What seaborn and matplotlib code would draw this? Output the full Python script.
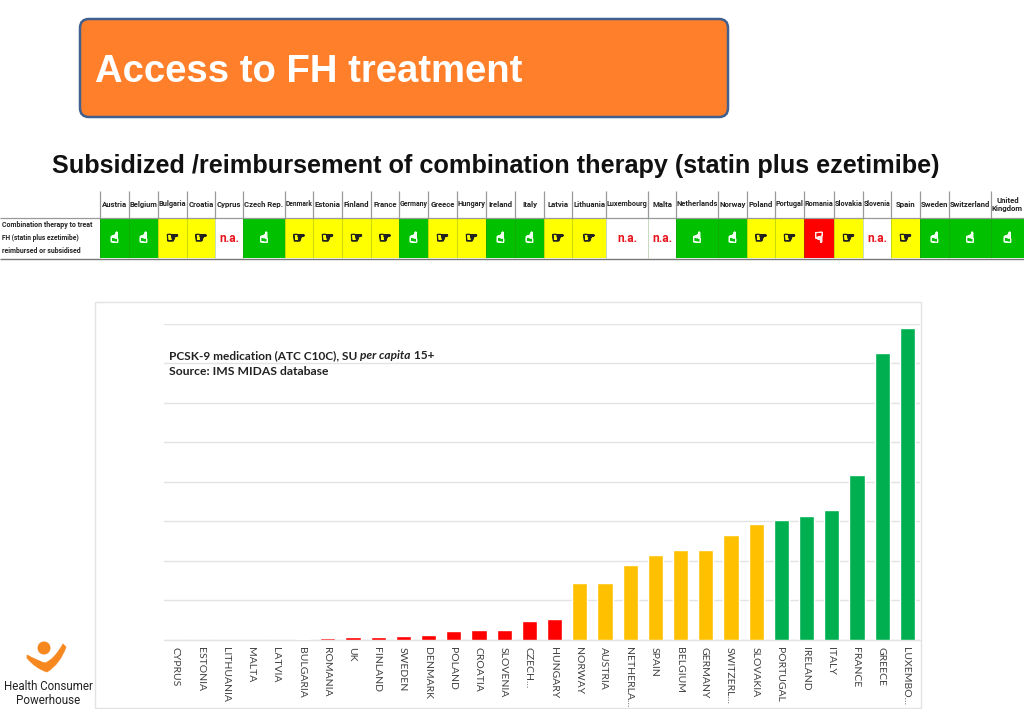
import numpy as np
import matplotlib
matplotlib.use("Agg")
import matplotlib.pyplot as plt
import matplotlib.patheffects as pe
from matplotlib.colors import ListedColormap
from matplotlib.patches import FancyBboxPatch, Rectangle, Circle, PathPatch
from matplotlib.path import Path
from matplotlib.transforms import ScaledTranslation
import seaborn as sns

# ---------- data ----------
title = "Access to FH treatment"
subtitle = "Subsidized /reimbursement of combination therapy (statin plus ezetimibe)"

table_countries = ["Austria", "Belgium", "Bulgaria", "Croatia", "Cyprus", "Czech Rep.", "Denmark", "Estonia",
                   "Finland", "France", "Germany", "Greece", "Hungary", "Ireland", "Italy", "Latvia", "Lithuania",
                   "Luxembourg", "Malta", "Netherlands", "Norway", "Poland", "Portugal", "Romania", "Slovakia",
                   "Slovenia", "Spain", "Sweden", "Switzerland", "United\nKingdom"]
# g = green, y = yellow, r = red, n = not available
table_status = list("ggyyngyyyygyygg" "yynnggyyryny" "ggg")
table_row_label = ["Combination therapy to treat", "FH (statin plus ezetimibe)", "reimbursed or subsidised"]

chart_countries = ["CYPRUS", "ESTONIA", "LITHUANIA", "MALTA", "LATVIA", "BULGARIA", "ROMANIA", "UK", "FINLAND",
                   "SWEDEN", "DENMARK", "POLAND", "CROATIA", "SLOVENIA", "CZECH...", "HUNGARY", "NORWAY", "AUSTRIA",
                   "NETHERLA...", "SPAIN", "BELGIUM", "GERMANY", "SWITZERL...", "SLOVAKIA", "PORTUGAL", "IRELAND",
                   "ITALY", "FRANCE", "GREECE", "LUXEMBO..."]
chart_values = [0, 0, 0, 0, 0, 0.1, 0.3, 0.6, 0.7, 0.9, 1.2, 2.2, 2.5, 2.5, 4.7, 5.2, 14.4, 14.4,
                19.0, 21.4, 22.6, 22.8, 26.6, 29.2, 30.4, 31.2, 32.8, 41.7, 72.6, 78.9]
chart_groups = ["low"] * 16 + ["mid"] * 8 + ["high"] * 6

# ---------- layout ----------
W, H = 1024, 709
table_edges = [100, 129, 158, 187, 215, 243, 285, 313, 342, 371, 399, 428, 457, 486, 515, 544, 572, 606,
               648, 676, 718, 747, 775, 804, 834, 863, 891, 920, 949, 991, 1024]
STATUS_COLORS = {"g": "#00C000", "y": "#FFFF00", "r": "#FF0000", "n": "#FFFFFF"}
GROUP_COLORS = {"low": "#FF0000", "mid": "#FFC000", "high": "#00B050"}
TABLE_FONT = ["Roboto", "DejaVu Sans"]
CHART_FONT = ["Lato", "DejaVu Sans"]
HEAD_FONT = ["Liberation Sans", "DejaVu Sans"]
HANDS = {"y": ("\u261E", "#222222"), "g": ("\u261D", "#F0FFF0"), "r": ("\u261F", "#FFE8E8")}

sns.set_theme(style="white")
fig = plt.figure(figsize=(W / 100, H / 100), dpi=100, facecolor="white")
renderer = fig.canvas.get_renderer()


def fit(t, width, max_size=None):
    """Scale a text so that it spans the given width in pixels."""
    size = t.get_fontsize() * width / t.get_window_extent(renderer).width
    t.set_fontsize(min(size, max_size) if max_size else size)
    return t


# page layer in pixel coordinates
bg = fig.add_axes([0, 0, 1, 1])
bg.set_xlim(0, W)
bg.set_ylim(H, 0)
bg.axis("off")

# title box
bg.add_patch(FancyBboxPatch((80, 19), 648, 98, boxstyle="round,pad=0,rounding_size=9",
                            fc="#FF7F2A", ec="#41608F", lw=1.8))
fit(bg.text(95, 72, title, color="white", fontsize=26, fontweight="bold", va="center", ha="left",
            family=HEAD_FONT), 428)
fit(bg.text(52, 166.5, subtitle, color="#111111", fontsize=17, fontweight="bold", va="center", ha="left",
            family=HEAD_FONT), 889)

# table
codes = np.array([[list(STATUS_COLORS).index(s) for s in table_status]])
bg.pcolormesh(table_edges, [218, 258], codes, cmap=ListedColormap(list(STATUS_COLORS.values())),
              vmin=-0.5, vmax=3.5, edgecolors="none")
bg.hlines(218, 0, W, color="#999999", lw=0.9)
bg.hlines(258.5, 0, W, color="#777777", lw=1.0)
bg.vlines(table_edges[:-1], 191, 218, color="#999999", lw=0.9)
bg.vlines(table_edges[:-1], 218, 258, color="#3d7a20", lw=0.4, alpha=0.5)
for line, y, w in zip(table_row_label, [225, 238, 251], [92, 78, 79]):
    fit(bg.text(2, y, line, fontsize=6, fontweight="bold", color="#222222", va="center", ha="left",
                family=TABLE_FONT), w)
for i, (c, s) in enumerate(zip(table_countries, table_status)):
    xc = (table_edges[i] + table_edges[i + 1]) / 2
    cell = table_edges[i + 1] - table_edges[i]
    fit(bg.text(xc, 204.5, c, fontsize=6, fontweight="bold", color="#222222", va="center", ha="center",
                family=TABLE_FONT, linespacing=1.25), cell - 1, max_size=5.6)
    if s == "n":
        fit(bg.text(xc, 239, "n.a.", fontsize=11, fontweight="bold", color="#E8141C", va="center", ha="center",
                    family=TABLE_FONT), 20)
    else:
        glyph, colour = HANDS[s]
        bg.text(xc, 238, glyph, fontsize=10.5, color=colour, va="center", ha="center", family=["DejaVu Sans"],
                path_effects=[pe.withStroke(linewidth=0.7, foreground=colour)])

# chart panel
bg.add_patch(Rectangle((95, 302), 826, 406, fc="white", ec="#E2E2E2", lw=1))

# logo
bg.add_patch(Circle((44, 648), 6.5, fc="#F7881F", ec="none"))
swoosh = Path([(27, 655), (38, 661), (45, 663), (54, 660), (63, 644), (66, 647), (60, 664), (47, 672),
               (35, 668), (27, 658), (27, 655)],
              [Path.MOVETO, Path.CURVE3, Path.CURVE3, Path.CURVE3, Path.CURVE3, Path.LINETO, Path.CURVE3,
               Path.CURVE3, Path.CURVE3, Path.CURVE3, Path.CLOSEPOLY])
bg.add_patch(PathPatch(swoosh, fc="#F7881F", ec="#F7881F", lw=0.5))
fit(bg.text(48, 686, "Health Consumer", fontsize=9, color="#222222", ha="center", va="center",
            family=TABLE_FONT), 90)
fit(bg.text(48, 700, "Powerhouse", fontsize=9, color="#222222", ha="center", va="center",
            family=TABLE_FONT), 65)

# bar chart
ax = fig.add_axes([164 / W, 1 - 639.5 / H, 756 / W, 315.5 / H])
ax.patch.set_alpha(0)
sns.barplot(x=chart_countries, y=chart_values, hue=chart_groups, palette=GROUP_COLORS, dodge=False,
            width=0.6, saturation=1, legend=False, ax=ax, zorder=3)
ax.set_xlim(-0.5, 29.5)
ax.set_ylim(0, 80)
ax.set_yticks(np.arange(0, 81, 10))
ax.tick_params(axis="y", left=False, labelleft=False)
ax.tick_params(axis="x", bottom=False, length=0, pad=5.4)
ax.grid(axis="y", color="#E3E3E3", lw=1)
ax.axhline(0, color="#E3E3E3", lw=1, clip_on=False, zorder=1)
ax.set_axisbelow(True)
for sp in ax.spines.values():
    sp.set_visible(False)
ax.set_xlabel("")
ax.set_ylabel("")
label_shift = ScaledTranslation(-1.5 / 100, 0, fig.dpi_scale_trans)
for lab in ax.get_xticklabels():
    lab.set_rotation(-90)
    lab.set_fontsize(7.5)
    lab.set_color("#404040")
    lab.set_family(CHART_FONT)
    lab.set_ha("center")
    lab.set_va("top")
    lab.set_transform(lab.get_transform() + label_shift)

# annotation in chart, built from consecutive runs
x = 169
for run, style in [("PCSK-9 medication (ATC C10C), SU ", "normal"), ("per capita", "italic"), (" 15+", "normal")]:
    t = bg.text(x, 355.5, run.replace(" ", "\u00a0"), fontsize=8.6, fontweight="bold", style=style, color="#222222",
                va="center", ha="left", family=CHART_FONT)
    x += t.get_window_extent(renderer).width
fit(bg.text(169, 371.5, "Source: IMS MIDAS database", fontsize=8.3, fontweight="bold", color="#222222",
            va="center", ha="left", family=CHART_FONT), 158)

fig.savefig("out.png", dpi=100, facecolor="white")
